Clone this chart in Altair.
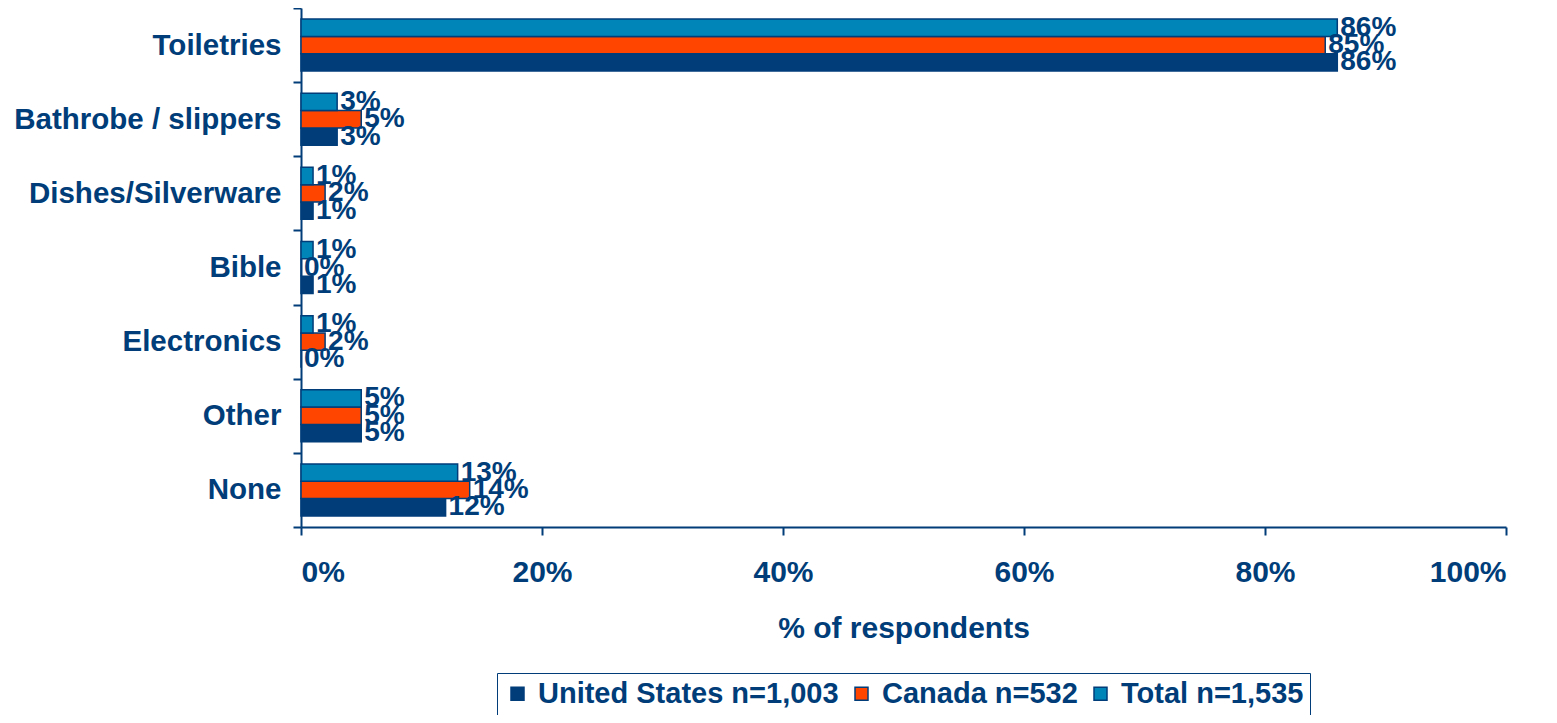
import altair as alt
import pandas as pd

categories = ["Toiletries", "Bathrobe / slippers", "Dishes/Silverware", "Bible", "Electronics", "Other", "None"]
us = [86, 3, 1, 1, 0, 5, 12]
canada = [85, 5, 2, 0, 2, 5, 14]
total = [86, 3, 1, 1, 1, 5, 13]
series = ["United States n=1,003", "Canada n=532", "Total n=1,535"]
colors = ["#003D79", "#FF4500", "#0085B9"]
navy = "#003D79"

rows = []
for name, vals in zip(series, [us, canada, total]):
    for c, v in zip(categories, vals):
        rows.append({"cat": c, "series": name, "v": v})
df = pd.DataFrame(rows)

font = "Liberation Sans"

y = alt.Y("cat:N", sort=categories, title=None,
          scale=alt.Scale(paddingInner=0, paddingOuter=0),
          axis=alt.Axis(tickBand="extent", tickSize=8, labelPadding=12, labelFontSize=29.5,
                        labelFont=font, labelFontWeight="bold", labelColor=navy, labelLimit=500,
                        domainColor=navy, tickColor=navy, domainWidth=2, tickWidth=2, grid=False))
yoff = alt.YOffset("series:N", sort=["Total n=1,535", "Canada n=532", "United States n=1,003"],
                   scale=alt.Scale(paddingOuter=0.64, paddingInner=0))
x = alt.X("v:Q", title="% of respondents",
          scale=alt.Scale(domain=[0, 100], nice=False),
          axis=alt.Axis(values=[0, 20, 40, 60, 80, 100], labelExpr="datum.value + '%'",
                        tickSize=8, labelPadding=22, labelFontSize=30, labelFont=font,
                        labelFontWeight="bold", labelColor=navy, titleFontSize=30,
                        titleFont=font, titleFontWeight="bold", titleColor=navy,
                        titlePadding=26, domainColor=navy, tickColor=navy,
                        domainWidth=2, tickWidth=2, grid=False))

bars = alt.Chart(df).mark_bar(stroke=navy, strokeWidth=1.5).encode(
    x=x, y=y, yOffset=yoff,
    color=alt.Color("series:N", sort=series,
                    scale=alt.Scale(domain=series, range=colors),
                    legend=alt.Legend(title=None, orient="none", direction="horizontal",
                                      legendX=196, legendY=665, symbolType="square",
                                      symbolSize=169, symbolStrokeColor=navy,
                                      symbolStrokeWidth=1.5,
                                      labelFontSize=29, labelFont=font, labelFontWeight="bold",
                                      labelColor=navy, columnPadding=8, labelOffset=6,
                                      strokeColor=navy, padding=6, labelLimit=500)),
)

labels = alt.Chart(df).transform_calculate(t="datum.v + '%'").mark_text(
    align="left", baseline="middle", dx=3, fontSize=28, font=font, fontWeight="bold", color=navy
).encode(x="v:Q", y=alt.Y("cat:N", sort=categories), yOffset=yoff, text="t:N")

chart = (bars + labels).properties(
    width=1205, height=519,
    autosize=alt.AutoSizeParams(type="none"),
    padding={"left": 293, "top": 0, "right": 40, "bottom": 188},
).configure_view(stroke=None)

chart.save("out.html", embed_options={"renderer": "svg", "actions": False})
